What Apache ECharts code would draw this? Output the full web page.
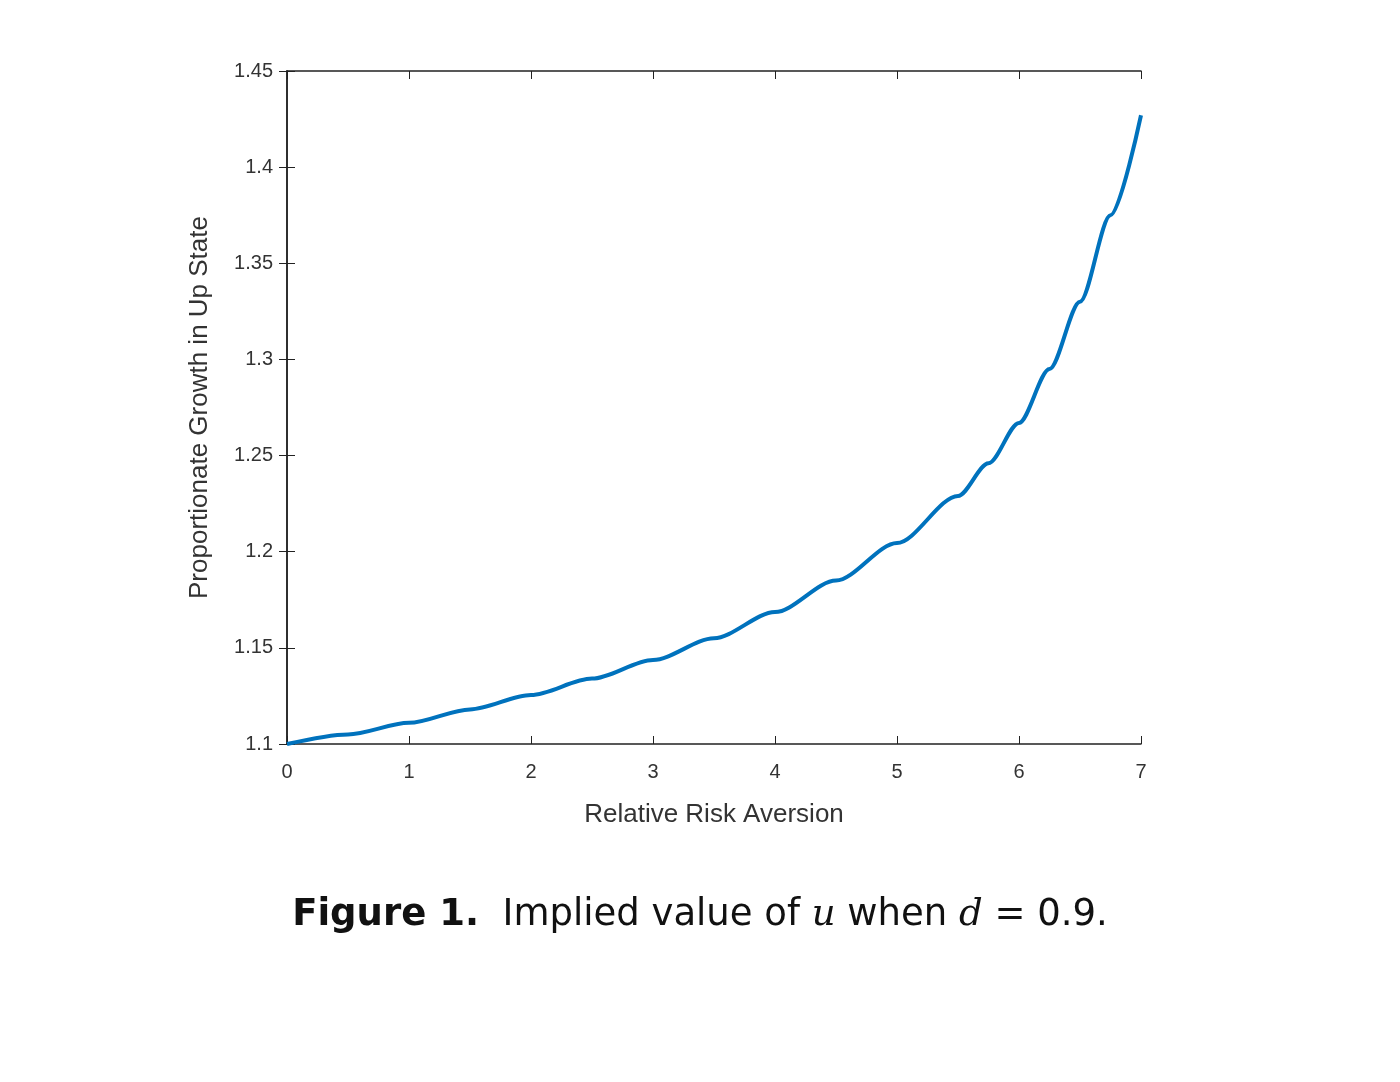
<!DOCTYPE html>
<html>
<head>
<meta charset="utf-8">
<script src="https://cdn.jsdelivr.net/npm/echarts@6/dist/echarts.min.js"></script>
<style>body{margin:0;background:#fff}#c{width:1400px;height:1082px}</style>
</head>
<body>
<div id="c"></div>
<script>
// values
const xs = [0, 0.5, 1, 1.5, 2, 2.5, 3, 3.5, 4, 4.5, 5, 5.5, 5.75, 6, 6.25, 6.5, 6.75, 7]
const ys = [1.1, 1.105, 1.111, 1.118, 1.1255, 1.134, 1.1437, 1.155, 1.1686, 1.185, 1.2045, 1.229, 1.246, 1.267, 1.295, 1.330, 1.375, 1.427]

const chart = echarts.init(document.getElementById('c'))
const lbl = { color: '#333', fontSize: 20, fontFamily: 'Liberation Sans' }
const line = { lineStyle: { color: '#222', width: 1.5 } }
const tick = { inside: true, length: 8, lineStyle: { color: '#222' } }
const option = {
  animation: false,
  grid: { left: 287, right: 259, top: 71, bottom: 338 },
  xAxis: [
    { type: 'value', min: 0, max: 7, interval: 1, axisLine: line, axisTick: tick,
      axisLabel: Object.assign({ margin: 18 }, lbl), splitLine: { show: false },
      name: 'Relative Risk Aversion', nameLocation: 'middle', nameGap: 58,
      nameTextStyle: { color: '#333', fontSize: 26, fontFamily: 'Liberation Sans' } },
    { type: 'value', position: 'top', min: 0, max: 7, interval: 1, axisLine: line, axisTick: tick,
      axisLabel: { show: false }, splitLine: { show: false } }
  ],
  yAxis: [
    { type: 'value', min: 1.1, max: 1.45, interval: 0.05, axisLine: line, axisTick: tick,
      axisLabel: Object.assign({ margin: 14, formatter: v => String(+v.toFixed(2)) }, lbl), splitLine: { show: false },
      name: 'Proportionate Growth in Up State', nameLocation: 'middle', nameGap: 74,
      nameTextStyle: { color: '#333', fontSize: 26, fontFamily: 'Liberation Sans' } },
    { type: 'value', position: 'right', min: 1.1, max: 1.45, interval: 0.05, axisLine: line, axisTick: tick,
      axisLabel: { show: false }, splitLine: { show: false } }
  ],
  series: [{
    type: 'line', data: xs.map((x, i) => [x, ys[i]]), smooth: 0.3, smoothMonotone: 'x', symbol: 'none',
    lineStyle: { color: '#0072BD', width: 4 }, clip: false
  }],
  graphic: [{
    type: 'text', left: 'center', top: 897,
    style: {
      text: '{b|Figure 1.}  Implied value of {i|u} when {i|d} = 0.9.',
      fontSize: 37, fill: '#111', fontFamily: 'DejaVu Sans',
      rich: {
        b: { fontSize: 37, fontWeight: 'bold', fontFamily: 'DejaVu Sans', fill: '#111' },
        i: { fontSize: 37, fontStyle: 'italic', fontFamily: 'DejaVu Serif', fill: '#111' }
      }
    }
  }]
}
chart.setOption(option)
</script>
</body>
</html>
